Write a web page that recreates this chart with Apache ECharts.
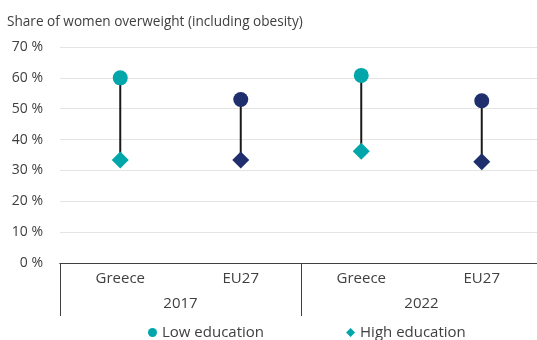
<!DOCTYPE html>
<html>
<head>
<meta charset="utf-8">
<script src="https://cdn.jsdelivr.net/npm/echarts@6/dist/echarts.min.js"></script>
<style>
  html, body { margin: 0; padding: 0; background: #ffffff; }
  #chart { width: 537px; height: 340px; }
</style>
</head>
<body>
<div id="chart"></div>
<script>
// Countries within each survey year, and the survey years below them
const categories = ['Greece', 'EU27', 'Greece', 'EU27'];
const years = ['2017', '2022'];
// Share of women overweight (incl. obesity), %
const lowEducation = [60.0, 53.0, 60.8, 52.6];
const highEducation = [33.4, 33.4, 36.2, 32.8];
const yTicks = [0, 10, 20, 30, 40, 50, 60, 70];

const TEAL = '#00A6AA';
const NAVY = '#1F2F6E';
const TEXT = '#404040';
const FONT = 'Open Sans';

function pointColor(i) {
  return categories[i] === 'Greece' ? TEAL : NAVY;
}

const stemData = categories.map((c, i) => [i, lowEducation[i], highEducation[i]]);

const chart = echarts.init(document.getElementById('chart'), null, { renderer: 'canvas' });

chart.setOption({
  animation: false,
  backgroundColor: '#ffffff',
  textStyle: { fontFamily: FONT },
  title: {
    text: 'Share of women overweight (including obesity)',
    left: 2,
    top: 10,
    textStyle: { fontFamily: FONT, fontSize: 13.6, fontWeight: 'normal', color: TEXT }
  },
  // the plot runs slightly past the right edge of the canvas
  grid: { left: 60, width: 482, top: 47, bottom: 77, containLabel: false, outerBoundsMode: 'none' },
  legend: {
    data: [
      { name: 'Low education', icon: 'circle' },
      { name: 'High education', icon: 'diamond' }
    ],
    left: 143,
    top: 320,
    itemWidth: 9,
    itemHeight: 9,
    itemGap: 82,
    textStyle: { fontFamily: FONT, fontSize: 15, color: TEXT }
  },
  xAxis: [
    {
      type: 'category',
      data: categories,
      position: 'bottom',
      axisLine: { show: true, lineStyle: { color: '#404040', width: 1 } },
      axisTick: { show: false },
      splitLine: { show: false },
      axisLabel: { margin: 8, fontFamily: FONT, fontSize: 15, color: TEXT, interval: 0 }
    },
    {
      type: 'category',
      data: years,
      position: 'bottom',
      axisLine: { show: true, lineStyle: { color: '#404040', width: 1 } },
      axisTick: { show: true, length: 53, interval: 0, lineStyle: { color: '#404040', width: 1 } },
      axisLabel: { margin: 33, fontFamily: FONT, fontSize: 15, color: TEXT, interval: 0 }
    }
  ],
  yAxis: {
    type: 'value',
    min: yTicks[0],
    max: yTicks[yTicks.length - 1],
    interval: 10,
    axisLine: { show: false },
    axisTick: { show: false },
    splitLine: { show: true, lineStyle: { color: '#E4E4E4', width: 1 } },
    axisLabel: { margin: 17, fontFamily: FONT, fontSize: 14, color: TEXT, formatter: '{value} %' }
  },
  series: [
    {
      name: 'stems',
      type: 'custom',
      xAxisIndex: 0,
      z: 1,
      silent: true,
      data: stemData,
      renderItem: function (params, api) {
        const top = api.coord([api.value(0), api.value(1)]);
        const bottom = api.coord([api.value(0), api.value(2)]);
        return {
          type: 'line',
          shape: { x1: top[0], y1: top[1], x2: bottom[0], y2: bottom[1] },
          style: { stroke: '#1A1A1A', lineWidth: 2 }
        };
      }
    },
    {
      name: 'Low education',
      type: 'scatter',
      xAxisIndex: 0,
      z: 3,
      symbol: 'circle',
      symbolSize: 15,
      itemStyle: { color: TEAL, opacity: 1 },
      data: lowEducation.map((v, i) => ({ value: [i, v], itemStyle: { color: pointColor(i) } }))
    },
    {
      name: 'High education',
      type: 'scatter',
      xAxisIndex: 0,
      z: 3,
      symbol: 'diamond',
      symbolSize: [17, 17],
      itemStyle: { color: TEAL, opacity: 1 },
      data: highEducation.map((v, i) => ({ value: [i, v], itemStyle: { color: pointColor(i) } }))
    }
  ]
});
</script>
</body>
</html>
